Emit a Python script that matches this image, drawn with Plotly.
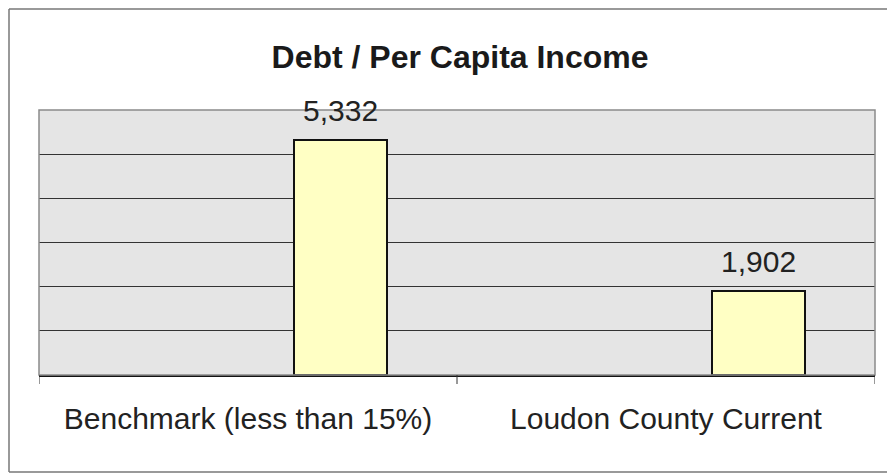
import plotly.graph_objects as go

categories = ["Benchmark (less than 15%)", "Loudon County Current"]
values = [5332, 1902]
value_labels = ["5,332", "1,902"]
title_text = "Debt / Per Capita Income"
y_max = 6000
y_step = 1000

# Excel-like layout: 3 series slots, gap width 150% -> data in the 3rd slot
n_slots = 3
gap_ratio = 1.5
bar_w = 1.0 / (n_slots + gap_ratio)
bar_offset = bar_w * 0.5  # left edge of 3rd slot relative to category center

OFF = 8  # page body margin
W, H = 895 - OFF, 476 - OFF
L, R, T, B = 39 - OFF, 20, 110 - OFF, 101
PW, PH = W - L - R, H - T - B

def px_x(sx):
    return (sx - OFF - L) / PW

def px_y(sy):
    return (H - B - (sy - OFF)) / PH

FONT = "Arial, Liberation Sans, sans-serif"

fig = go.Figure()
fig.add_trace(go.Bar(
    x=list(range(len(categories))),
    y=values,
    width=bar_w,
    offset=bar_offset,
    marker=dict(color="#FFFFC4", line=dict(color="#111111", width=2)),
    hoverinfo="skip",
))

annotations = []
for i, (v, lab) in enumerate(zip(values, value_labels)):
    annotations.append(dict(
        x=i + bar_offset + bar_w / 2, y=v, xref="x", yref="y",
        text=lab, showarrow=False, yanchor="bottom", yshift=11,
        font=dict(family=FONT, size=30, color="#222222"),
    ))

shapes = [
    # plot area border
    dict(type="rect", xref="paper", yref="paper", x0=0, x1=1, y0=0, y1=1,
         line=dict(color="#8a8a8a", width=1.5), layer="above"),
    # outer chart border (left, top, bottom only; right edge runs off the image)
    dict(type="line", xref="paper", yref="paper",
         x0=px_x(9), x1=px_x(9), y0=px_y(472), y1=px_y(9),
         line=dict(color="#777777", width=1.5), layer="below"),
    dict(type="line", xref="paper", yref="paper",
         x0=px_x(9), x1=px_x(1000), y0=px_y(9), y1=px_y(9),
         line=dict(color="#777777", width=1.5), layer="below"),
    dict(type="line", xref="paper", yref="paper",
         x0=px_x(9), x1=px_x(1000), y0=px_y(472), y1=px_y(472),
         line=dict(color="#777777", width=1.5), layer="below"),
]
# ticks at category boundaries
for xb in [-0.5 + k for k in range(len(categories) + 1)]:
    shapes.append(dict(type="line", xref="x", yref="paper", x0=xb, x1=xb, y0=0,
                       y1=-9 / PH, line=dict(color="#333333", width=1)))

fig.update_layout(
    width=W, height=H,
    margin=dict(l=L, r=R, t=T, b=B, pad=0),
    paper_bgcolor="white",
    plot_bgcolor="#E5E5E5",
    showlegend=False,
    bargap=0,
    title=dict(
        text=title_text, x=0.5036, xref="paper", xanchor="center",
        y=1 - (57 - OFF) / H, yref="container", yanchor="middle",
        font=dict(family=FONT, size=32, color="#1a1a1a", weight="bold"),
    ),
    annotations=annotations,
    shapes=shapes,
    xaxis=dict(
        tickmode="array",
        tickvals=list(range(len(categories))),
        ticktext=categories,
        range=[-0.5, len(categories) - 0.5],
        showgrid=False,
        showline=True, linecolor="#111111", linewidth=2,
        ticks="", ticklen=9,
        tickfont=dict(family=FONT, size=30, color="#222222"),
        ticklabelstandoff=16,
        zeroline=False,
    ),
    yaxis=dict(
        range=[0, y_max], dtick=y_step, tick0=0,
        showticklabels=False, ticks="",
        showgrid=True, gridcolor="#333333", gridwidth=1,
        showline=False, zeroline=False,
    ),
)

fig.write_html("out.html")
